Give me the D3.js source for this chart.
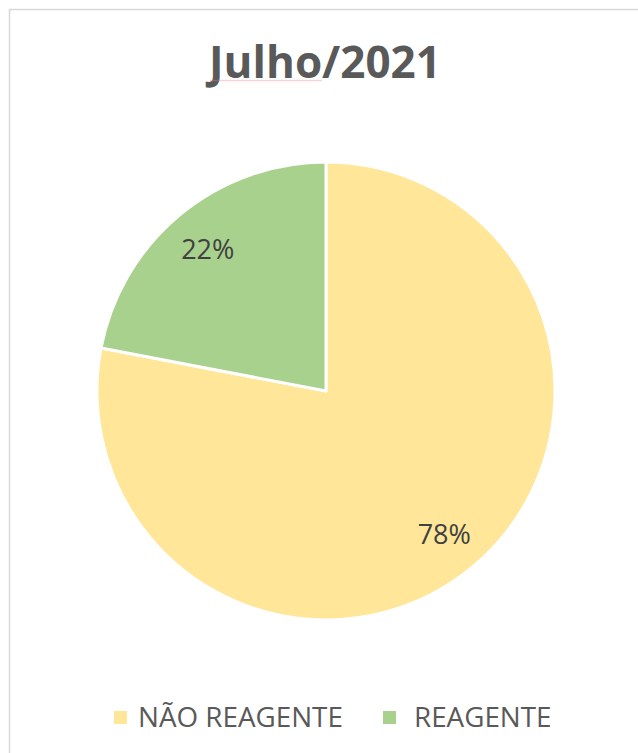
<!DOCTYPE html>
<html>
<head>
<meta charset="utf-8">
<script src="https://cdn.jsdelivr.net/npm/d3@7"></script>
<style>
  html, body { margin: 0; padding: 0; background: #fff; }
  svg { display: block; }
</style>
</head>
<body>
<svg id="chart" width="638" height="753"></svg>
<script>
const title = "Julho/2021";
const categories = ["NÃO REAGENTE", "REAGENTE"];
const values = [78, 22];
const colors = ["#FFE699", "#A9D18E"];

const svg = d3.select("#chart");

// chart border (extends past right/bottom)
svg.append("rect")
  .attr("x", 9.5).attr("y", 9.5)
  .attr("width", 640).attr("height", 760)
  .attr("fill", "#fff")
  .attr("stroke", "#D9D9D9")
  .attr("stroke-width", 1.5);

// title
svg.append("text")
  .attr("x", 325).attr("y", 78)
  .attr("text-anchor", "middle")
  .attr("font-family", "'Open Sans', 'Liberation Sans', sans-serif")
  .attr("font-weight", "bold")
  .attr("font-size", 44)
  .attr("fill", "#595959")
  .text(title);

// spell-check squiggle under "Julho"
const sq = d3.path();
sq.moveTo(210, 80);
for (let x = 210; x < 322; x += 4) { sq.lineTo(x + 2, 81); sq.lineTo(x + 4, 80); }
svg.append("path").attr("d", sq.toString())
  .attr("fill", "none").attr("stroke", "#F08080").attr("stroke-opacity", 0.6).attr("stroke-width", 0.8);

const cx = 326, cy = 391, r = 229;
const data = categories.map((c, i) => ({ cat: c, value: values[i], color: colors[i] }));
const pie = d3.pie().value(d => d.value).sort(null);
const arcs = pie(data);
const arc = d3.arc().innerRadius(0).outerRadius(r);
const labelArc = d3.arc().innerRadius(r * 0.81).outerRadius(r * 0.81);

const g = svg.append("g").attr("transform", `translate(${cx},${cy})`);
g.selectAll("path.slice").data(arcs).enter().append("path")
  .attr("class", "slice")
  .attr("d", arc)
  .attr("fill", d => d.data.color)
  .attr("stroke", "#fff")
  .attr("stroke-width", 3)
  .attr("stroke-linejoin", "round");

const fmt = d3.format(".0%");
const total = d3.sum(values);
g.selectAll("text.lbl").data(arcs).enter().append("text")
  .attr("class", "lbl")
  .attr("transform", d => `translate(${labelArc.centroid(d)})`)
  .attr("text-anchor", "middle")
  .attr("dominant-baseline", "central")
  .attr("font-family", "'Open Sans', 'Liberation Sans', sans-serif")
  .attr("font-size", 27)
  .attr("fill", "#404040")
  .text(d => fmt(d.data.value / total));

// legend
const legendX = [114, 383];
const textX = [138, 414];
const lg = svg.append("g");
data.forEach((d, i) => {
  lg.append("rect")
    .attr("x", legendX[i]).attr("y", 711)
    .attr("width", 13).attr("height", 13)
    .attr("fill", d.color);
  lg.append("text")
    .attr("x", textX[i]).attr("y", 727)
    .attr("font-family", "'Open Sans', 'Liberation Sans', sans-serif")
    .attr("font-size", 27.8)
    .attr("fill", "#595959")
    .text(d.cat);
});
</script>
</body>
</html>
